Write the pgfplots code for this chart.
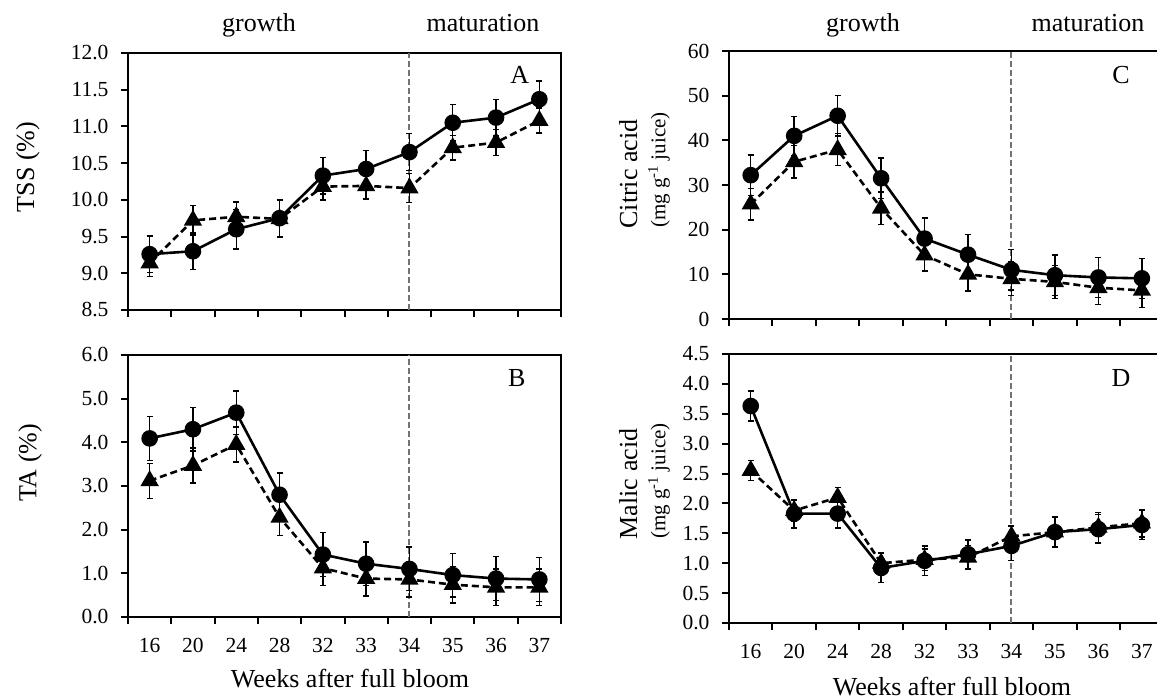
\documentclass[border=0pt]{standalone}
\usepackage{fontspec}
\setmainfont{Liberation Serif}
\usepackage{pgfplots}
\usepackage{pgfplotstable}
\pgfplotsset{compat=1.18}

% x = bin centre (0.5 ... 9.5), c/ce = circles, t/te = triangles
\pgfplotstableread{
x   c     ce    t     te
0.5 9.26  0.25  9.14  0.18
1.5 9.30  0.25  9.72  0.20
2.5 9.60  0.27  9.77  0.20
3.5 9.75  0.25  9.74  0.25
4.5 10.33 0.25  10.18 0.18
5.5 10.42 0.25  10.19 0.18
6.5 10.65 0.25  10.16 0.20
7.5 11.05 0.25  10.71 0.17
8.5 11.12 0.25  10.78 0.18
9.5 11.37 0.25  11.08 0.17
}\tss
\pgfplotstableread{
x   c     ce    t     te
0.5 4.09  0.50  3.12  0.40
1.5 4.30  0.50  3.47  0.40
2.5 4.68  0.50  3.95  0.40
3.5 2.80  0.50  2.28  0.42
4.5 1.43  0.50  1.12  0.40
5.5 1.22  0.50  0.88  0.40
6.5 1.10  0.50  0.86  0.40
7.5 0.96  0.50  0.74  0.42
8.5 0.88  0.50  0.68  0.42
9.5 0.86  0.50  0.68  0.42
}\ta
\pgfplotstableread{
x   c     ce    t     te
0.5 32.2  4.5   25.7  3.5
1.5 41.0  4.4   35.2  3.6
2.5 45.5  4.5   37.9  3.6
3.5 31.5  4.5   24.8  3.6
4.5 18.0  4.6   14.3  3.6
5.5 14.4  4.5   10.0  3.7
6.5 11.0  4.5   9.0   3.8
7.5 9.8   4.5   8.3   3.7
8.5 9.3   4.5   7.0   3.8
9.5 9.1   4.5   6.4   3.8
}\citric
\pgfplotstableread{
x   c     ce    t     te
0.5 3.63  0.25  2.55  0.17
1.5 1.83  0.24  1.88  0.18
2.5 1.83  0.24  2.10  0.17
3.5 0.92  0.24  1.00  0.17
4.5 1.04  0.25  1.06  0.18
5.5 1.15  0.24  1.10  0.20
6.5 1.29  0.24  1.45  0.17
7.5 1.52  0.24  1.52  0.25
8.5 1.57  0.24  1.60  0.25
9.5 1.64  0.24  1.67  0.23
}\malic

\tikzset{
  big/.style={font=\fontsize{26}{28}\selectfont},
  unit/.style={font=\fontsize{21}{23}\selectfont},
}
\pgfplotsset{
  panel/.style={
    scale only axis, anchor=south west, clip=false,
    xmin=0, xmax=10, xtick={0,...,10},
    tick align=outside, tick pos=bottom, ytick pos=left,
    major tick length=7pt,
    every tick/.style={black, line width=2pt},
    axis line style={line width=2.4pt},
    tick label style={font=\fontsize{21.5}{24}\selectfont},
    yticklabel style={xshift=-9pt},
    /pgf/number format/assume math mode=true,
  },
  wks/.style={xticklabels={16,20,24,28,32,33,34,35,36,37,{}},
    xticklabel style={xshift=#1, yshift=-11pt}},
  nowks/.style={xticklabels={}},
  onedec/.style={yticklabel style={/pgf/number format/.cd, fixed, fixed zerofill, precision=1}},
  circ/.style={black, line width=2.6pt, mark=*, mark size=7pt,
    error bars/.cd, y dir=both, y explicit,
    error bar style={line width=1.4pt, solid},
    error mark options={rotate=90, mark size=3pt, line width=1.4pt}},
  tri/.style={black, line width=2.6pt, dash pattern=on 7pt off 4pt,
    mark=triangle*, mark size=8pt, mark options={solid},
    error bars/.cd, y dir=both, y explicit,
    error bar style={line width=1.4pt, solid},
    error mark options={rotate=90, mark size=3pt, line width=1.4pt}},
  stage/.style={black!55, line width=2pt, dash pattern=on 6pt off 3pt, mark=none},
}

\begin{document}
\begin{tikzpicture}
\useasboundingbox (0,0) rectangle (1157pt,700pt);

% A: TSS
\begin{axis}[panel, nowks, onedec, at={(128pt,390pt)}, width=433pt, height=257pt,
  ymin=8.5, ymax=12, ytick={8.5,9,...,12}]
\addplot[stage] coordinates {(6.5,8.5) (6.5,12)};
\addplot[tri] table[x=x, y=t, y error=te] {\tss};
\addplot[circ] table[x=x, y=c, y error=ce] {\tss};
\node[big] at (rel axis cs:0.905,0.914) {A};
\node[big, rotate=90] at (rel axis cs:-0.231,0.556) {TSS (\%)};
\end{axis}

% B: TA
\begin{axis}[panel, wks=21.65pt, onedec, at={(128pt,83pt)}, width=433pt, height=262pt,
  ymin=0, ymax=6, ytick={0,1,...,6}]
\addplot[stage] coordinates {(6.5,0) (6.5,6)};
\addplot[tri] table[x=x, y=t, y error=te] {\ta};
\addplot[circ] table[x=x, y=c, y error=ce] {\ta};
\node[big] at (rel axis cs:0.898,0.912) {B};
\node[big, rotate=90] at (rel axis cs:-0.226,0.588) {TA (\%)};
\end{axis}

% C: citric acid
\begin{axis}[panel, nowks, at={(729pt,381pt)}, width=434.6pt, height=268pt,
  ymin=0, ymax=60, ytick={0,10,...,60}]
\addplot[stage] coordinates {(6.5,0) (6.5,60)};
\addplot[tri] table[x=x, y=t, y error=te] {\citric};
\addplot[circ] table[x=x, y=c, y error=ce] {\citric};
\node[big] at (rel axis cs:0.902,0.910) {C};
\node[big, rotate=90] at (rel axis cs:-0.232,0.541) {Citric acid};
\node[unit, rotate=90] at (rel axis cs:-0.161,0.556) {(mg g\textsuperscript{-1} juice)};
\end{axis}

% D: malic acid
\begin{axis}[panel, wks=21.73pt, onedec, at={(729pt,77pt)}, width=434.6pt, height=269pt,
  ymin=0, ymax=4.5, ytick={0,0.5,...,4.5}]
\addplot[stage] coordinates {(6.5,0) (6.5,4.5)};
\addplot[tri] table[x=x, y=t, y error=te] {\malic};
\addplot[circ] table[x=x, y=c, y error=ce] {\malic};
\node[big] at (rel axis cs:0.902,0.911) {D};
\node[big, rotate=90] at (rel axis cs:-0.232,0.517) {Malic acid};
\node[unit, rotate=90] at (rel axis cs:-0.161,0.528) {(mg g\textsuperscript{-1} juice)};
\end{axis}

% stage labels and x titles
\node[big, anchor=base] at (259pt,668pt) {growth};
\node[big, anchor=base] at (483pt,668pt) {maturation};
\node[big, anchor=base] at (863pt,668pt) {growth};
\node[big, anchor=base] at (1088pt,668pt) {maturation};
\node[big, anchor=base] at (350pt,12pt) {Weeks after full bloom};
\node[big, anchor=base] at (952pt,4pt) {Weeks after full bloom};
\end{tikzpicture}
\end{document}
